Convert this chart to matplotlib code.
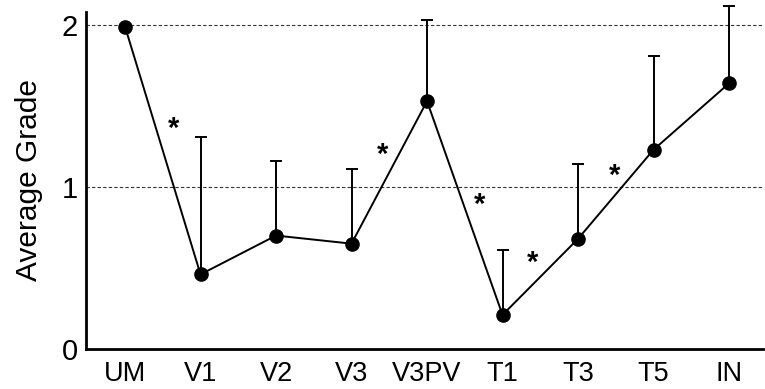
import matplotlib
matplotlib.use("Agg")
import matplotlib.pyplot as plt
import numpy as np

matplotlib.rcParams['font.family'] = ['Liberation Sans', 'DejaVu Sans']

# data
groups = ["UM", "V1", "V2", "V3", "V3PV", "T1", "T3", "T5", "IN"]
mean_grade = [1.99, 0.46, 0.70, 0.65, 1.53, 0.21, 0.68, 1.23, 1.64]
err_upper = [0.0, 0.85, 0.46, 0.46, 0.50, 0.40, 0.46, 0.58, 0.48]

# significance stars between neighbouring groups (x in group units, y in grade)
star_x = [0.64, 3.41, 4.69, 5.40, 6.49]
star_y = [1.36, 1.20, 0.89, 0.53, 1.07]

fig = plt.figure(figsize=(7.65, 3.89), dpi=100)
ax = fig.add_axes([0.1124, 0.103, 0.885, 0.866])

x = np.arange(len(groups))
ax.errorbar(x, mean_grade, yerr=[np.zeros(len(x)), err_upper],
            fmt="none", ecolor="black", elinewidth=1.4, capsize=4.5,
            capthick=1.4, clip_on=False, zorder=3)
ax.plot(x, mean_grade, color="black", lw=1.4, marker="o", markersize=9.5,
        zorder=4, clip_on=False)

for gy in (1, 2):
    ax.axhline(gy, color="#333333", lw=0.8, ls=(0, (3, 2)), zorder=1)

for sx, sy in zip(star_x, star_y):
    ax.text(sx, sy, "*", ha="center", va="center", fontsize=21,
            fontweight="bold")

ax.set_xlim(-0.517, 8.45)
ax.set_ylim(0, 2.08)
ax.set_xticks(x)
ax.set_xticklabels(groups)
ax.set_yticks([0, 1, 2])
ax.tick_params(axis="both", length=0)
ax.tick_params(axis="x", pad=9, labelsize=19.5)
ax.tick_params(axis="y", pad=6, labelsize=21)
ax.set_ylabel("Average Grade", fontsize=21.5, labelpad=13)

for s in ("top", "right"):
    ax.spines[s].set_visible(False)
for s in ("left", "bottom"):
    ax.spines[s].set_linewidth(2)

fig.savefig("out.png", dpi=100)
